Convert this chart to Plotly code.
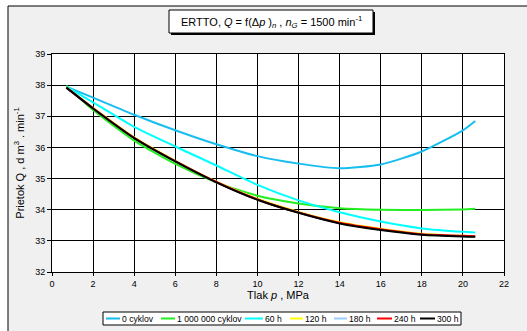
import plotly.graph_objects as go

x_pts = [0.7, 2, 4, 6, 8, 10, 12, 14, 16, 18, 20, 20.6]

series_names = ["0 cyklov", "1 000 000 cyklov", "60 h", "120 h", "180 h", "240 h", "300 h"]
q_0cyk = [37.95, 37.6, 37.05, 36.55, 36.1, 35.72, 35.48, 35.33, 35.45, 35.87, 36.55, 36.85]
q_1mil = [37.98, 37.2, 36.22, 35.47, 34.88, 34.45, 34.2, 34.05, 34.0, 33.99, 34.01, 34.03]
q_60h = [37.95, 37.45, 36.66, 36.03, 35.42, 34.8, 34.3, 33.92, 33.62, 33.4, 33.29, 33.27]
q_120h = [37.93, 37.27, 36.32, 35.57, 34.9, 34.35, 33.93, 33.6, 33.39, 33.23, 33.16, 33.15]
q_180h = [37.92, 37.26, 36.31, 35.56, 34.89, 34.33, 33.91, 33.57, 33.36, 33.21, 33.15, 33.14]
q_240h = [37.92, 37.26, 36.31, 35.56, 34.89, 34.33, 33.91, 33.58, 33.37, 33.21, 33.16, 33.15]
q_300h = [37.92, 37.25, 36.3, 35.55, 34.88, 34.32, 33.9, 33.56, 33.35, 33.2, 33.14, 33.13]

series_values = [q_0cyk, q_1mil, q_60h, q_120h, q_180h, q_240h, q_300h]
colors = ["#18BDF0", "#22EE22", "#00FFFF", "#FFFF00", "#99CCFF", "#FF0000", "#000000"]

x_ticks = list(range(0, 23, 2))
y_ticks = list(range(32, 40))

fig = go.Figure()
for name, vals, col in zip(series_names, series_values, colors):
    fig.add_trace(go.Scatter(x=x_pts, y=vals, mode="lines", name=name, showlegend=False,
                             line=dict(color=col, width=2, shape="spline", smoothing=0.6)))

L, R, T, B = 52, 23, 54, 59
W, H = 527, 331
pw, ph = W - L - R, H - T - B

def px(xp):
    return (xp - L) / pw

def py(yp):
    return (H - B - yp) / ph

shapes = [
    dict(type="rect", xref="paper", yref="paper", x0=px(8), x1=px(540), y0=py(345), y1=py(6),
         fillcolor="#F0F0F0", line=dict(color="black", width=1), layer="below"),
    dict(type="rect", xref="paper", yref="paper", x0=0, x1=1, y0=0, y1=1,
         fillcolor="white", line=dict(width=0), layer="below"),
    # title shadow + box
    dict(type="rect", xref="paper", yref="paper", x0=px(171), x1=px(375), y0=py(35), y1=py(12),
         fillcolor="#000000", line=dict(width=0)),
    dict(type="rect", xref="paper", yref="paper", x0=px(169), x1=px(373), y0=py(33), y1=py(10),
         fillcolor="white", line=dict(color="black", width=1)),
    # legend box
    dict(type="rect", xref="paper", yref="paper", x0=px(103), x1=px(461), y0=py(325), y1=py(312),
         fillcolor="white", line=dict(color="black", width=1)),
]

annotations = [
    dict(xref="paper", yref="paper", x=px(271), y=py(21.5), xanchor="center", yanchor="middle",
         showarrow=False,
         text="ERTTO, <i>Q</i> = f(Δ<i>p</i> )<sub><i>n</i></sub> , <i>n</i><sub><i>G</i></sub> = 1500 min<sup>-1</sup>",
         font=dict(family="Liberation Sans, Arial", size=11, color="black")),
]

# manual legend entries (sample line start/end, text start) in pixels
legend_pos = [(106, 120, 121), (161, 175, 176), (245, 263, 264), (290, 303, 304),
              (334, 347, 348), (377, 392, 393), (420, 435, 436)]
ly = 318.5
for name, col, (a, b, t) in zip(series_names, colors, legend_pos):
    shapes.append(dict(type="line", xref="paper", yref="paper", x0=px(a), x1=px(b),
                       y0=py(ly), y1=py(ly), line=dict(color=col, width=2)))
    annotations.append(dict(xref="paper", yref="paper", x=px(t), y=py(ly), xanchor="left",
                            yanchor="middle", showarrow=False, text=name,
                            font=dict(size=8.6, color="black"), xshift=-1))

fig.update_layout(
    width=W, height=H,
    margin=dict(l=L, r=R, t=T, b=B),
    paper_bgcolor="white",
    plot_bgcolor="white",
    font=dict(family="Liberation Sans, Arial", size=9, color="black"),
    shapes=shapes,
    annotations=annotations,
    showlegend=False,
    xaxis=dict(range=[0, 22], tickvals=x_ticks, showgrid=True, gridcolor="black", gridwidth=1,
               showline=True, linecolor="black", linewidth=1, mirror=True,
               ticks="outside", ticklen=3, tickcolor="black", zeroline=False,
               title=dict(text="Tlak <i>p</i> , MPa", font=dict(size=11), standoff=2),
               tickfont=dict(size=9)),
    yaxis=dict(range=[32, 39], tickvals=y_ticks, showgrid=True, gridcolor="black", gridwidth=1,
               showline=True, linecolor="black", linewidth=1, mirror=True,
               ticks="outside", ticklen=4, tickcolor="black", zeroline=False,
               title=dict(text="Prietok Q , d m<sup>3</sup> . min<sup>-1</sup>", font=dict(size=11), standoff=8),
               tickfont=dict(size=9)),
)

fig.write_html("out.html", config={"displayModeBar": False},
               post_script="document.body.style.margin='0';document.body.style.overflow='hidden';")
